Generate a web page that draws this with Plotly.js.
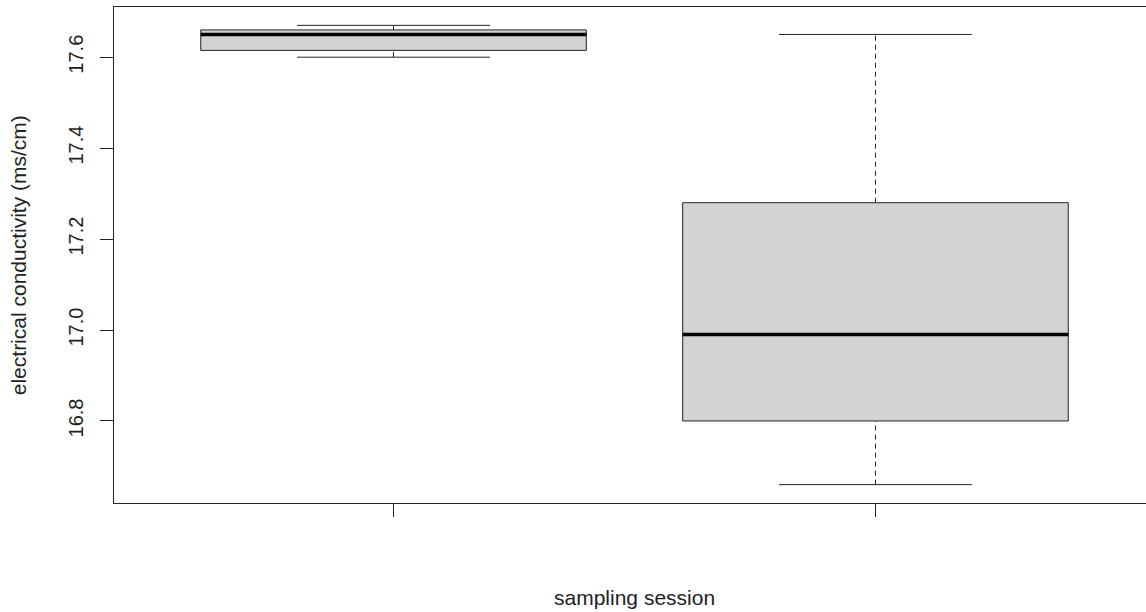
<!DOCTYPE html>
<html>
<head>
<meta charset="utf-8">
<script src="https://cdn.plot.ly/plotly-3.0.1.min.js"></script>
<style>
html,body{margin:0;padding:0;overflow:hidden;background:#fff;}
#chart{width:1161px;height:612px;}
</style>
</head>
<body>
<div id="chart"></div>
<script>
// Data (two sampling sessions)
const positions = [1, 2];
const lowerWhisker = [17.60, 16.66];
const q1 = [17.615, 16.80];
const median = [17.65, 16.99];
const q3 = [17.66, 17.28];
const upperWhisker = [17.67, 17.65];
const yTickVals = [16.8, 17.0, 17.2, 17.4, 17.6];
const yTickText = ["16.8", "17.0", "17.2", "17.4", "17.6"];
const xLabel = "sampling session";
const yLabel = "electrical conductivity (ms/cm)";

const boxHalf = 0.4;
const capHalf = 0.2;
const traces = [];
function seg(x, y, opts) {
  traces.push(Object.assign({type: 'scatter', mode: 'lines', x: x, y: y, hoverinfo: 'skip', showlegend: false}, opts));
}
positions.forEach((c, i) => {
  // whisker stems (dashed)
  seg([c, c], [q3[i], upperWhisker[i]], {line: {color: '#222', width: 1, dash: '5px,4px'}});
  seg([c, c], [lowerWhisker[i], q1[i]], {line: {color: '#222', width: 1, dash: '5px,4px'}});
  // caps
  seg([c - capHalf, c + capHalf], [upperWhisker[i], upperWhisker[i]], {line: {color: '#222', width: 1}});
  seg([c - capHalf, c + capHalf], [lowerWhisker[i], lowerWhisker[i]], {line: {color: '#222', width: 1}});
  // box
  seg([c - boxHalf, c + boxHalf, c + boxHalf, c - boxHalf, c - boxHalf],
      [q1[i], q1[i], q3[i], q3[i], q1[i]],
      {fill: 'toself', fillcolor: '#d3d3d3', line: {color: '#222', width: 1}});
  // median
  seg([c - boxHalf, c + boxHalf], [median[i], median[i]], {line: {color: '#000', width: 3.5}});
});

const dataMin = Math.min(...lowerWhisker), dataMax = Math.max(...upperWhisker);
const pad = (dataMax - dataMin) * 0.04;
const xPad = (positions[positions.length - 1] - positions[0] + 1) * 0.04;

const layout = {
  width: 1161, height: 612,
  margin: {l: 114, r: 6, t: 7, b: 109},
  paper_bgcolor: '#fff', plot_bgcolor: '#fff',
  font: {family: '"Liberation Sans", Arial, sans-serif', color: '#222', size: 20},
  xaxis: {
    range: [positions[0] - 0.5 - xPad, positions[positions.length - 1] + 0.5 + xPad],
    tickvals: positions, ticktext: positions.map(() => ''),
    ticks: 'outside', ticklen: 13, tickcolor: '#222', tickwidth: 1,
    showline: true, mirror: true, linecolor: '#222', linewidth: 1,
    showgrid: false, zeroline: false, fixedrange: true
  },
  yaxis: {
    range: [dataMin - pad, dataMax + pad],
    tickvals: yTickVals, ticktext: yTickText, tickangle: -90,
    ticks: 'outside', ticklen: 13, tickcolor: '#222', tickwidth: 1,
    ticklabelstandoff: 9,
    tickfont: {size: 20, color: '#222'},
    showline: true, mirror: true, linecolor: '#222', linewidth: 1,
    showgrid: false, zeroline: false, fixedrange: true
  },
  annotations: [
    {text: xLabel, xref: 'paper', yref: 'paper', x: 0.5, y: -0.19, xanchor: 'center', yanchor: 'middle',
     showarrow: false, font: {size: 21, color: '#222'}},
    {text: yLabel, xref: 'paper', yref: 'paper', x: -0.092, y: 0.5, xanchor: 'center', yanchor: 'middle',
     textangle: -90, showarrow: false, font: {size: 21, color: '#222'}}
  ]
};
Plotly.newPlot('chart', traces, layout, {displayModeBar: false, staticPlot: true});
</script>
</body>
</html>
